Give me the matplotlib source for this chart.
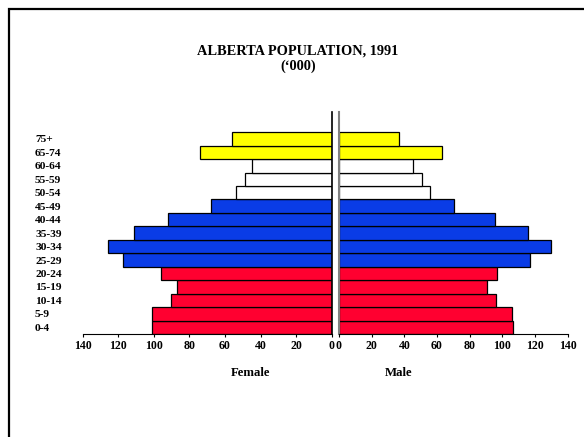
import matplotlib
matplotlib.use("Agg")
import matplotlib.pyplot as plt
from matplotlib.patches import Rectangle

ages = ["0-4", "5-9", "10-14", "15-19", "20-24", "25-29", "30-34", "35-39",
        "40-44", "45-49", "50-54", "55-59", "60-64", "65-74", "75+"]
female = [101, 101, 90.5, 87, 96, 117.5, 126, 111, 92, 68, 54, 48.5, 45, 74, 56]
male = [106.5, 106, 96, 90.8, 97, 117, 129.6, 116, 95.3, 70.2, 56, 50.6, 45.5, 63.3, 37]
colors = ["#FF0030"] * 5 + ["#0A3CE6"] * 5 + ["#FFFFFF"] * 3 + ["#FFFF00"] * 2
xticks = [0, 20, 40, 60, 80, 100, 120, 140]

plt.rcParams['font.family'] = ['Liberation Serif', 'DejaVu Serif']
plt.rcParams['font.weight'] = 'bold'

W, H = 584, 437
fig = plt.figure(figsize=(W / 100, H / 100), dpi=100)

def box(x0, x1, y0, y1):
    return [x0 / W, 1 - y1 / H, (x1 - x0) / W, (y1 - y0) / H]

axf = fig.add_axes(box(82.7, 331.7, 112, 334))
axm = fig.add_axes(box(339, 567.7, 112, 334))

ypos = list(range(len(ages)))
axf.barh(ypos, female, height=1.0, color=colors, edgecolor='black', linewidth=0.9)
axm.barh(ypos, male, height=1.0, color=colors, edgecolor='black', linewidth=0.9)

for ax in (axf, axm):
    ax.set_ylim(-0.5, 16)
    ax.set_xlim(0, 140)
    ax.set_xticks(xticks)
    ax.set_xticklabels([str(t) for t in xticks], fontsize=8.6, fontweight='bold')
    ax.tick_params(axis='x', length=2, width=0.8, pad=2.5)
    ax.spines['top'].set_visible(False)

axf.invert_xaxis()
axf.spines['left'].set_visible(False)
axf.spines['right'].set_linewidth(1.2)
axf.set_yticks(ypos)
axf.set_yticklabels(ages, fontsize=8.2, fontweight='bold', ha='left')
axf.tick_params(axis='y', length=0, pad=(82.7 - 35) / 1.389)

axm.spines['right'].set_visible(False)
axm.spines['left'].set_color('#808080')
axm.spines['left'].set_linewidth(1.5)
axm.set_yticks([])

fig.text(251 / W, 1 - 372.5 / H, "Female", ha='center', va='center', fontsize=9.2, fontweight='bold')
fig.text(399 / W, 1 - 372.5 / H, "Male", ha='center', va='center', fontsize=9.2, fontweight='bold')
fig.text(298 / W, 1 - 51 / H, "ALBERTA POPULATION, 1991", ha='center', va='center', fontsize=10.4, fontweight='bold')
fig.text(298 / W, 1 - 66.5 / H, "(\u2018000)", ha='center', va='center', fontsize=10.4, fontweight='bold')

fig.patches.append(Rectangle((8.5 / W, -0.05), 1.1, 1 - 8.5 / H + 0.05, transform=fig.transFigure,
                             fill=False, edgecolor='black', linewidth=1.6))

fig.savefig("out.png", dpi=100)
